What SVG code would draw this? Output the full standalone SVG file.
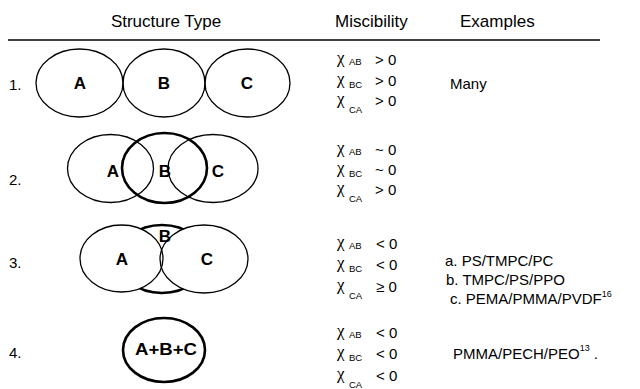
<svg xmlns="http://www.w3.org/2000/svg" width="640" height="389" viewBox="0 0 640 389">
<style>
text{font-family:"Liberation Sans",Arial,sans-serif;fill:#000}
.h{font-size:17px}
.num{font-size:15px}
.lbl{font-size:17px;font-weight:bold;text-anchor:middle}
.chi{font-family:"Liberation Serif","Times New Roman",serif;font-size:17px}
.sub{font-size:9.5px}
.rel{font-size:15px}
.ex{font-size:15px}
.sup{font-size:9px}
.thin{fill:none;stroke:#000;stroke-width:1.3}
.thick{fill:none;stroke:#000;stroke-width:2.6}
.wfill{fill:#fff;stroke:none}
</style>
<g id="header">
<text class="h" x="166" y="27" text-anchor="middle">Structure Type</text>
<text class="h" x="335" y="27">Miscibility</text>
<text class="h" x="460" y="27">Examples</text>
<line x1="8" y1="40" x2="600" y2="40" stroke="#000" stroke-width="1.3"/>
</g>
<g id="s1">
<text class="num" x="9" y="90">1.</text>
<ellipse class="thin" cx="79.5" cy="83" rx="43.5" ry="34"/>
<ellipse class="thin" cx="164" cy="83" rx="41" ry="34"/>
<ellipse class="thin" cx="247.5" cy="83" rx="42.5" ry="34"/>
<text class="lbl" x="80" y="89">A</text>
<text class="lbl" x="164" y="89">B</text>
<text class="lbl" x="247" y="89">C</text>
</g>
<g id="s2">
<text class="num" x="9" y="185">2.</text>
<ellipse class="thin" cx="110.5" cy="168.5" rx="43" ry="34"/>
<ellipse class="thick" cx="164.5" cy="168" rx="42.5" ry="35"/>
<ellipse class="thin" cx="213" cy="168.5" rx="45" ry="34"/>
<text class="lbl" x="113" y="177">A</text>
<text class="lbl" x="165" y="177">B</text>
<text class="lbl" x="218" y="177">C</text>
</g>
<g id="s3">
<text class="num" x="9" y="268">3.</text>
<ellipse class="thick" cx="162" cy="259" rx="44" ry="34"/>
<ellipse class="wfill" cx="121.5" cy="258.5" rx="41.5" ry="33.5"/>
<ellipse class="wfill" cx="204" cy="259" rx="44" ry="34"/>
<ellipse class="thin" cx="121.5" cy="258.5" rx="41.5" ry="33.5"/>
<ellipse class="thin" cx="204" cy="259" rx="44" ry="34"/>
<text class="lbl" x="122" y="265">A</text>
<text class="lbl" x="165" y="242">B</text>
<text class="lbl" x="207" y="265">C</text>
</g>
<g id="s4">
<text class="num" x="9" y="358">4.</text>
<ellipse class="thick" cx="164" cy="350" rx="41" ry="32"/>
<text class="lbl" x="166" y="355" textLength="62" lengthAdjust="spacingAndGlyphs">A+B+C</text>
</g>
<g id="misc1">
<text class="chi" x="337" y="63">χ</text><text class="sub" x="349" y="65">AB</text><text class="rel" x="375" y="65">&gt; 0</text>
<text class="chi" x="337" y="84">χ</text><text class="sub" x="349" y="88">BC</text><text class="rel" x="375" y="86">&gt; 0</text>
<text class="chi" x="337" y="104">χ</text><text class="sub" x="349" y="113">CA</text><text class="rel" x="375" y="106">&gt; 0</text>
</g>
<g id="misc2">
<text class="chi" x="337" y="153">χ</text><text class="sub" x="349" y="155">AB</text><text class="rel" x="375" y="155">~ 0</text>
<text class="chi" x="337" y="173">χ</text><text class="sub" x="349" y="177">BC</text><text class="rel" x="375" y="175">~ 0</text>
<text class="chi" x="337" y="193">χ</text><text class="sub" x="349" y="202">CA</text><text class="rel" x="375" y="195">&gt; 0</text>
</g>
<g id="misc3">
<text class="chi" x="337" y="247">χ</text><text class="sub" x="349" y="249">AB</text><text class="rel" x="376" y="249">&lt; 0</text>
<text class="chi" x="337" y="268">χ</text><text class="sub" x="349" y="272">BC</text><text class="rel" x="376" y="270">&lt; 0</text>
<text class="chi" x="337" y="290">χ</text><text class="sub" x="349" y="299">CA</text><text class="rel" x="376" y="292">≥ 0</text>
</g>
<g id="misc4">
<text class="chi" x="337" y="336">χ</text><text class="sub" x="349" y="338">AB</text><text class="rel" x="376" y="338">&lt; 0</text>
<text class="chi" x="337" y="357">χ</text><text class="sub" x="349" y="361">BC</text><text class="rel" x="376" y="359">&lt; 0</text>
<text class="chi" x="337" y="379">χ</text><text class="sub" x="349" y="388">CA</text><text class="rel" x="376" y="381">&lt; 0</text>
</g>
<g id="examples">
<text class="ex" x="450" y="89">Many</text>
<text class="ex" x="445" y="266">a. PS/TMPC/PC</text>
<text class="ex" x="446" y="285">b. TMPC/PS/PPO</text>
<text class="ex" x="450" y="304">c. PEMA/PMMA/PVDF<tspan class="sup" dy="-7">16</tspan></text>
<text class="ex" x="453" y="359">PMMA/PECH/PEO<tspan class="sup" dy="-8">13</tspan><tspan dy="8"> .</tspan></text>
</g>
</svg>
